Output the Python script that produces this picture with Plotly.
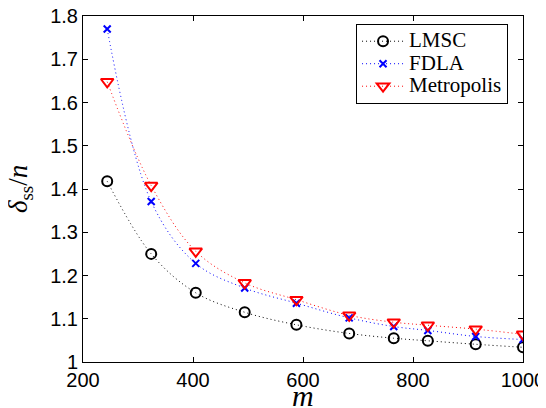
import plotly.graph_objects as go

m_vals = [244, 324, 405, 494, 588, 684, 765, 827, 914, 1000]
lmsc = [1.418, 1.250, 1.160, 1.115, 1.086, 1.066, 1.055, 1.049, 1.041, 1.034]
fdla = [1.770, 1.371, 1.228, 1.171, 1.136, 1.102, 1.082, 1.073, 1.059, 1.052]
metro = [1.648, 1.408, 1.256, 1.183, 1.144, 1.108, 1.092, 1.085, 1.076, 1.064]
series_names = ["LMSC", "FDLA", "Metropolis"]

x_ticks = [200, 400, 600, 800, 1000]
y_ticks = [1.0, 1.1, 1.2, 1.3, 1.4, 1.5, 1.6, 1.7, 1.8]
y_labels = ["1", "1.1", "1.2", "1.3", "1.4", "1.5", "1.6", "1.7", "1.8"]
x_title = "<i>m</i>"
y_title = "<i>δ</i><sub>ss</sub>/<i>n</i>"

dotpat = "1px,3px"


def big(name):
    return '<span style="font-size:21px">%s</span>' % name


fig = go.Figure()
fig.add_trace(go.Scatter(x=m_vals, y=lmsc, name=big(series_names[0]), mode="lines+markers",
                         line=dict(color="black", dash=dotpat, width=1, shape="spline"),
                         marker=dict(symbol="circle-open", size=10, color="black",
                                     line=dict(width=2, color="black"))))
fig.add_trace(go.Scatter(x=m_vals, y=fdla, name=big(series_names[1]), mode="lines+markers",
                         line=dict(color="blue", dash=dotpat, width=1, shape="spline"),
                         marker=dict(symbol="x-thin-open", size=7, color="blue",
                                     line=dict(width=2, color="blue"))))
fig.add_trace(go.Scatter(x=m_vals, y=metro, name=big(series_names[2]), mode="lines+markers",
                         line=dict(color="red", dash=dotpat, width=1, shape="spline"),
                         marker=dict(symbol="triangle-down-open", size=11, color="red",
                                     line=dict(width=2, color="red"))))

axis_common = dict(showline=True, linecolor="black", linewidth=1, mirror="ticks",
                   ticks="inside", ticklen=5, tickcolor="black", showgrid=False,
                   zeroline=False, automargin=False, ticklabeloverflow="allow",
                   tickfont=dict(family="Liberation Sans, Arial", size=20, color="black"))

fig.update_xaxes(range=[200, 1000], tickvals=x_ticks, **axis_common)
fig.update_yaxes(range=[1.0, 1.8], tickvals=y_ticks, ticktext=y_labels, **axis_common)

title_font = dict(family="Liberation Serif, Times New Roman", color="black")
fig.add_annotation(text=x_title, xref="paper", yref="paper", x=0.5, y=-0.098,
                   xanchor="center", yanchor="middle", showarrow=False,
                   font=dict(size=30, **title_font))
fig.add_annotation(text=y_title, xref="paper", yref="paper", x=-0.143, y=0.5,
                   xanchor="center", yanchor="middle", showarrow=False, textangle=-90,
                   font=dict(size=27, **title_font))

# the page body keeps an 8px margin, so the figure starts 8px in from the window corner
fig.update_layout(
    width=538, height=400,
    margin=dict(l=75, r=23, t=8, b=46, autoexpand=False),
    plot_bgcolor="white", paper_bgcolor="white",
    legend=dict(x=0.966, y=0.977, xanchor="right", yanchor="top",
                bordercolor="black", borderwidth=1, bgcolor="white",
                font=dict(family="Liberation Serif, Times New Roman", size=15, color="black"),
                tracegroupgap=0, itemwidth=42),
    showlegend=True,
)

fig.write_html("out.html")
